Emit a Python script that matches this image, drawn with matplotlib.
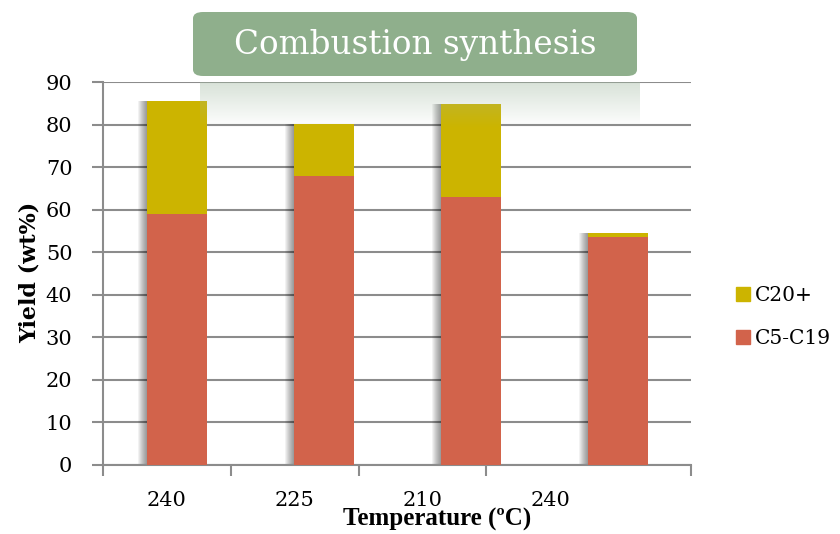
import numpy as np
import matplotlib
matplotlib.use("Agg")
import matplotlib.pyplot as plt
from matplotlib.patches import FancyBboxPatch, Patch

# data
temps = ["240", "225", "210", "240"]
c5_c19 = [59.0, 67.9, 63.0, 53.6]
c20_plus = [26.6, 12.2, 21.8, 0.8]

RED = "#D2634B"
YELLOW = "#CCB400"
GRID = "#8C8C8C"
SERIF = ["DejaVu Serif"]

fig = plt.figure(figsize=(8.4, 5.34), dpi=100)
fig.patch.set_facecolor("white")
ax = fig.add_axes([103 / 840, 1 - 465 / 534, 588 / 840, 383 / 534])

x = np.arange(len(temps))
width = 0.41
totals = np.array(c5_c19) + np.array(c20_plus)

# soft drop shadow to the left of every bar
px = 1 / 147
for k in range(1, 10):
    ax.bar(x - k * px, totals, width, color="black", alpha=0.05,
           linewidth=0, zorder=1)

ax.bar(x, c5_c19, width, color=RED, linewidth=0, zorder=3, label="C5-C19")
ax.bar(x, c20_plus, width, bottom=c5_c19, color=YELLOW, linewidth=0,
       zorder=3, label="C20+")

ax.set_xlim(-0.5, 3.5)
ax.set_ylim(0, 90)
ax.set_yticks(np.arange(0, 91, 10))
ax.yaxis.grid(True, color=GRID, linewidth=1.5)
ax.set_axisbelow(True)

for side in ["top", "right"]:
    ax.spines[side].set_visible(False)
for side in ["left", "bottom"]:
    ax.spines[side].set_color(GRID)
    ax.spines[side].set_linewidth(1.5)

ax.tick_params(axis="y", length=8, width=1.5, color=GRID, pad=14,
               labelsize=15)
for lab in ax.get_yticklabels():
    lab.set_family(SERIF)


# the category labels sit on a slightly narrower scale than the bars
def to_bar(u):
    return (128 * np.asarray(u) - 10.5) / 147


ax.set_xticks(to_bar(np.arange(4)), temps)
ax.set_xticks(list(to_bar(np.arange(4) - 0.5)) + [3.5], minor=True)
ax.tick_params(axis="x", which="major", length=0, pad=19, labelsize=15)
ax.tick_params(axis="x", which="minor", length=8, width=1.5, color=GRID)
for lab in ax.get_xticklabels():
    lab.set_family(SERIF)

fig.text(30 / 840, 1 - 272 / 534, "Yield (wt%)", rotation=90, ha="center",
         va="center", fontsize=16, fontweight="bold", family=SERIF)
fig.text(437 / 840, 1 - 519 / 534, "Temperature (ºC)", ha="center",
         va="center", fontsize=18, fontweight="bold",
         family=["Liberation Serif"])

# legend
handles = [Patch(color=YELLOW, label="C20+"), Patch(color=RED, label="C5-C19")]
fig.legend(handles=handles, loc="center left",
           bbox_to_anchor=(722 / 840, 1 - 317 / 534), frameon=False,
           handlelength=0.7, handleheight=0.7, handletextpad=0.25,
           labelspacing=1.2, borderpad=0.2,
           prop={"family": SERIF, "size": 14.5})

# title box with a faded reflection underneath
refl = fig.add_axes([200 / 840, 1 - 128 / 534, 440 / 840, 46 / 534], zorder=5)
grad = np.zeros((50, 2, 4))
grad[..., 0] = 0.62
grad[..., 1] = 0.72
grad[..., 2] = 0.62
grad[..., 3] = np.linspace(0.4, 0.0, 50)[:, None]
refl.imshow(grad, aspect="auto", extent=[0, 1, 0, 1], interpolation="bilinear")
refl.axis("off")

box = FancyBboxPatch((193 / 840, 1 - 76 / 534), 444 / 840, 64 / 534,
                     boxstyle="round,pad=0,rounding_size=0.012",
                     transform=fig.transFigure, facecolor="#8FAF8C",
                     edgecolor="none", zorder=6)
fig.patches.append(box)
fig.text(415 / 840, 1 - 45 / 534, "Combustion synthesis", ha="center",
         va="center", color="white", fontsize=23.5, family=SERIF, zorder=7)

fig.savefig("out.png", dpi=100)
